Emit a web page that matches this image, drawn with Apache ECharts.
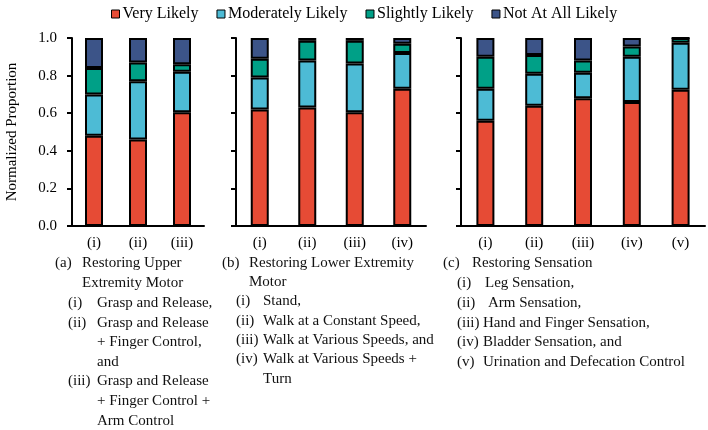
<!DOCTYPE html>
<html>
<head>
	<meta charset="UTF-8">
	<title>Normalized Proportion</title>
	<script src="https://cdn.jsdelivr.net/npm/echarts@6/dist/echarts.min.js"></script>
	<style>
		body { margin: 0; background: #fff; }
		#container { width: 708px; height: 430px; }
	</style>
</head>
<body>
	<div id="container"></div>
	<script>
		// legend / series names
		var names = ['Very Likely', 'Moderately Likely', 'Slightly Likely', 'Not At All Likely'];
		var colors = ['#E64B35', '#4DBBD5', '#00A087', '#3C5488'];
		var yTicks = [0, 0.2, 0.4, 0.6, 0.8, 1.0];

		// (a) upper extremity motor
		var catsA = ['(i)', '(ii)', '(iii)'];
		var veryA = [0.48, 0.46, 0.605];
		var modA = [0.22, 0.31, 0.215];
		var slightA = [0.14, 0.10, 0.04];
		var notA = [0.16, 0.13, 0.14];

		// (b) lower extremity motor
		var catsB = ['(i)', '(ii)', '(iii)', '(iv)'];
		var veryB = [0.62, 0.63, 0.605, 0.73];
		var modB = [0.17, 0.25, 0.26, 0.19];
		var slightB = [0.10, 0.105, 0.12, 0.05];
		var notB = [0.11, 0.015, 0.015, 0.03];

		// (c) sensation
		var catsC = ['(i)', '(ii)', '(iii)', '(iv)', '(v)'];
		var veryC = [0.56, 0.64, 0.68, 0.66, 0.725];
		var modC = [0.17, 0.17, 0.135, 0.24, 0.25];
		var slightC = [0.17, 0.10, 0.065, 0.055, 0.025];
		var notC = [0.10, 0.09, 0.12, 0.045, 0];

		var serif = 'Liberation Serif';

		// caption lines: [x, y, text]
		var captions = [
			[55, 264, '(a)'], [82, 264, 'Restoring Upper'],
			[82, 284, 'Extremity Motor'],
			[68, 304, '(i)'], [97, 304, 'Grasp and Release,'],
			[68, 324, '(ii)'], [97, 324, 'Grasp and Release'],
			[97, 343, '+ Finger Control,'],
			[97, 363, 'and'],
			[68, 382, '(iii)'], [97, 382, 'Grasp and Release'],
			[97, 402, '+ Finger Control +'],
			[97, 422, 'Arm Control'],

			[222, 264, '(b)'], [249, 264, 'Restoring Lower Extremity'],
			[249, 283, 'Motor'],
			[236, 302, '(i)'], [263, 302, 'Stand,'],
			[236, 322, '(ii)'], [263, 322, 'Walk at a Constant Speed,'],
			[236, 341, '(iii)'], [263, 341, 'Walk at Various Speeds, and'],
			[236, 360, '(iv)'], [263, 360, 'Walk at Various Speeds +'],
			[263, 380, 'Turn'],

			[443, 264, '(c)'], [472, 264, 'Restoring Sensation'],
			[457, 284, '(i)'], [485, 284, 'Leg Sensation,'],
			[457, 304, '(ii)'], [488, 304, 'Arm Sensation,'],
			[457, 324, '(iii)'], [483, 324, 'Hand and Finger Sensation,'],
			[457, 343, '(iv)'], [483, 343, 'Bladder Sensation, and'],
			[457, 363, '(v)'], [483, 363, 'Urination and Defecation Control']
		];

		var dom = document.getElementById('container');
		var myChart = echarts.init(dom);

		var grids = [
			{left: 72, top: 38, width: 132, height: 188},
			{left: 236, top: 38, width: 190, height: 188},
			{left: 461, top: 38, width: 244, height: 188}
		];

		var lineStyle = {color: '#000', width: 2};

		function makeX(gi, cats) {
			return {
				type: 'category',
				gridIndex: gi,
				data: cats,
				axisLine: {lineStyle: lineStyle},
				axisTick: {length: 5, lineStyle: lineStyle},
				axisLabel: {color: '#000', fontFamily: serif, fontSize: 15, margin: 10}
			};
		}

		function makeY(gi, showLabel) {
			var ax = {
				type: 'value',
				gridIndex: gi,
				min: yTicks[0],
				max: yTicks[yTicks.length - 1],
				interval: 0.2,
				splitLine: {show: false},
				axisLine: {show: true, lineStyle: lineStyle},
				axisTick: {show: true, length: 5, lineStyle: lineStyle},
				axisLabel: {
					show: showLabel,
					color: '#000',
					fontFamily: serif,
					fontSize: 15,
					margin: 15,
					formatter: function (v) { return v.toFixed(1); }
				}
			};
			if (showLabel) {
				ax.name = 'Normalized Proportion';
				ax.nameLocation = 'middle';
				ax.nameGap = 52;
				ax.nameTextStyle = {color: '#000', fontFamily: serif, fontSize: 15};
			}
			return ax;
		}

		var series = [];
		function addGroup(gi, groups) {
			for (var i = 0; i < groups.length; i++) {
				series.push({
					name: names[i],
					type: 'bar',
					xAxisIndex: gi,
					yAxisIndex: gi,
					stack: 'g' + gi,
					barWidth: 18,
					data: groups[i],
					itemStyle: {color: colors[i], borderColor: '#000', borderWidth: 2}
				});
			}
		}
		addGroup(0, [veryA, modA, slightA, notA]);
		addGroup(1, [veryB, modB, slightB, notB]);
		addGroup(2, [veryC, modC, slightC, notC]);

		var graphic = captions.map(function (c) {
			return {
				type: 'text',
				left: c[0],
				top: c[1] - 8,
				style: {text: c[2], fill: '#111', font: '15px "' + serif + '"'}
			};
		});

		var option = {
			animation: false,
			color: colors,
			textStyle: {fontFamily: serif},
			legend: {
				data: names,
				left: 106,
				top: 1,
				itemWidth: 8,
				itemHeight: 8,
				itemGap: 18,
				icon: 'rect',
				itemStyle: {borderColor: '#000', borderWidth: 1},
				textStyle: {color: '#000', fontFamily: serif, fontSize: 16, padding: [0, 0, 0, -2]}
			},
			grid: grids,
			xAxis: [makeX(0, catsA), makeX(1, catsB), makeX(2, catsC)],
			yAxis: [makeY(0, true), makeY(1, false), makeY(2, false)],
			series: series,
			graphic: graphic
		};

		if (option && typeof option === "object") {
			myChart.setOption(option, true);
		}
	</script>
</body>
</html>
